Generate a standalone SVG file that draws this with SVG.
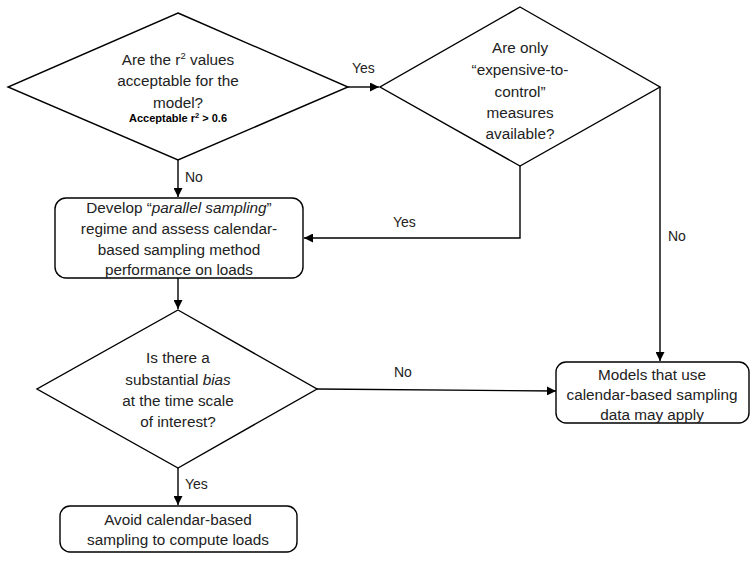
<svg xmlns="http://www.w3.org/2000/svg" width="754" height="562" viewBox="0 0 754 562">
<defs>
<marker id="arr" viewBox="0 0 10 10" refX="10" refY="5" markerWidth="9" markerHeight="9" markerUnits="userSpaceOnUse" orient="auto">
<path d="M0,0 L10,5 L0,10 Z" fill="#000"/>
</marker>
<style>
.shape{fill:#fff;stroke:#000;stroke-width:1.4}
.t{font-family:"Liberation Sans",Arial,sans-serif;font-size:15.3px;fill:#222;text-anchor:middle}
.lbl{font-family:"Liberation Sans",Arial,sans-serif;font-size:14px;fill:#222;text-anchor:start}
.small{font-family:"Liberation Sans",Arial,sans-serif;font-size:11px;font-weight:bold;fill:#000;text-anchor:middle}
.c{fill:none;stroke:#000;stroke-width:1.4}
</style>
</defs>
<rect width="754" height="562" fill="#fff"/>
<g id="connectors">
<path class="c" d="M348,87 L379,87" marker-end="url(#arr)"/>
<path class="c" d="M178,160 L178,197" marker-end="url(#arr)"/>
<path class="c" d="M520,166 L520,238 L304,238" marker-end="url(#arr)"/>
<path class="c" d="M660,87 L660,361" marker-end="url(#arr)"/>
<path class="c" d="M178,278 L178,309" marker-end="url(#arr)"/>
<path class="c" d="M317,389 L556,391" marker-end="url(#arr)"/>
<path class="c" d="M178,468 L178,505" marker-end="url(#arr)"/>
<text class="lbl" x="352" y="73">Yes</text>
<text class="lbl" x="185" y="182">No</text>
<text class="lbl" x="393" y="227">Yes</text>
<text class="lbl" x="668" y="241">No</text>
<text class="lbl" x="394" y="377">No</text>
<text class="lbl" x="185" y="489">Yes</text>
</g>
<g id="q1">
<polygon class="shape" points="178,13 348,87 178,160 8,87"/>
<text class="t" x="178" y="65">Are the r<tspan font-size="9.5" dy="-6">2</tspan><tspan dy="6"> values</tspan></text>
<text class="t" x="178" y="86">acceptable for the</text>
<text class="t" x="178" y="108">model?</text>
<text class="small" x="178" y="122">Acceptable  r<tspan font-size="7.5" dy="-4">2</tspan><tspan dy="4"> &gt; 0.6</tspan></text>
</g>
<g id="q2">
<polygon class="shape" points="520,7 660,87 520,166 380,87"/>
<text class="t" x="520" y="53">Are only</text>
<text class="t" x="520" y="75">“expensive-to-</text>
<text class="t" x="520" y="97">control”</text>
<text class="t" x="520" y="118">measures</text>
<text class="t" x="520" y="139">available?</text>
</g>
<g id="develop">
<rect class="shape" x="55" y="198" width="248" height="80" rx="11"/>
<text class="t" x="179" y="213">Develop “<tspan font-style="italic">parallel sampling</tspan>”</text>
<text class="t" x="179" y="234">regime and assess calendar-</text>
<text class="t" x="179" y="255">based sampling method</text>
<text class="t" x="179" y="275">performance on loads</text>
</g>
<g id="q3">
<polygon class="shape" points="178,310 317,389 178,468 37,389"/>
<text class="t" x="178" y="363">Is there a</text>
<text class="t" x="178" y="385">substantial <tspan font-style="italic">bias</tspan></text>
<text class="t" x="178" y="406">at the time scale</text>
<text class="t" x="178" y="427">of interest?</text>
</g>
<g id="models">
<rect class="shape" x="556" y="362" width="193" height="61" rx="10"/>
<text class="t" x="652" y="380">Models that use</text>
<text class="t" x="652" y="400">calendar-based sampling</text>
<text class="t" x="652" y="420">data may apply</text>
</g>
<g id="avoid">
<rect class="shape" x="60" y="506" width="237" height="46" rx="10"/>
<text class="t" x="178" y="525">Avoid calendar-based</text>
<text class="t" x="178" y="545">sampling to compute loads</text>
</g>
</svg>
